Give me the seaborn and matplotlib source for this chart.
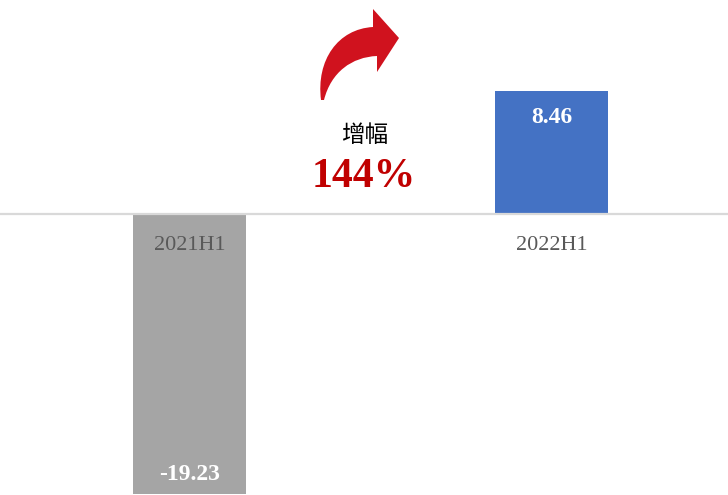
import matplotlib
matplotlib.use("Agg")
from matplotlib import pyplot as plt
from matplotlib.path import Path
from matplotlib.patches import PathPatch
import seaborn as sns
import pandas as pd

periods = ["2021H1", "2022H1"]
values = [-19.23, 8.46]
bar_colors = ["#A5A5A5", "#4472C4"]
growth_label = "增幅"
growth_value = "144%"

sns.set_style("white")
plt.rcParams['font.family'] = ['Liberation Serif', 'DejaVu Serif']

df = pd.DataFrame({"period": periods, "value": values})

fig = plt.figure(figsize=(7.28, 4.95), dpi=100)
ax = fig.add_axes([0, 0, 1, 1])
sns.barplot(data=df, x="period", y="value", hue="period", palette=bar_colors,
            width=0.312, saturation=1, legend=False, linewidth=0, ax=ax)

ax.set_xlim(-0.523, 1.486)
ax.set_ylim(-19.27, 14.69)
ax.axhline(0, color="#D9D9D9", lw=1.6, zorder=3)

for s in ax.spines.values():
    s.set_visible(False)
ax.set_xticks([])
ax.set_yticks([])
ax.set_xlabel("")
ax.set_ylabel("")

# category names just under the zero line
for i, p in enumerate(periods):
    ax.text(i, -2.13, p, ha="center", va="center", fontsize=16, color="#595959", zorder=4)

# value labels inside bar ends
for i, v in enumerate(values):
    y = v - 1.8 if v > 0 else v + 1.35
    ax.text(i, y, f"{v:.2f}", ha="center", va="center", fontsize=17,
            fontweight="bold", color="white", zorder=4)

# growth annotation
ax.text(0.501, 0.727, growth_label, transform=ax.transAxes, ha="center", va="center",
        fontsize=17, family=['Noto Sans CJK SC', 'DejaVu Sans'], color="black")
ax.text(0.499, 0.643, growth_value, transform=ax.transAxes, ha="center", va="center",
        fontsize=30, fontweight="bold", color="#C00000")

# curved up-right arrow shape (axes-fraction coords, axes fills the figure)
W, H = 728.0, 495.0
pts = [(321, 100), (316, 60), (338, 29), (373, 27),
       (373, 9), (399, 38), (377, 72), (377, 56),
       (352, 57), (331, 72), (324, 100), (321, 100)]
codes = [Path.MOVETO, Path.CURVE4, Path.CURVE4, Path.CURVE4,
         Path.LINETO, Path.LINETO, Path.LINETO, Path.LINETO,
         Path.CURVE4, Path.CURVE4, Path.CURVE4, Path.CLOSEPOLY]
verts = [(x / W, 1 - y / H) for x, y in pts]
ax.add_patch(PathPatch(Path(verts, codes), transform=ax.transAxes,
                       facecolor="#D0121E", edgecolor="none", zorder=5))

fig.savefig("out.png", dpi=100)
